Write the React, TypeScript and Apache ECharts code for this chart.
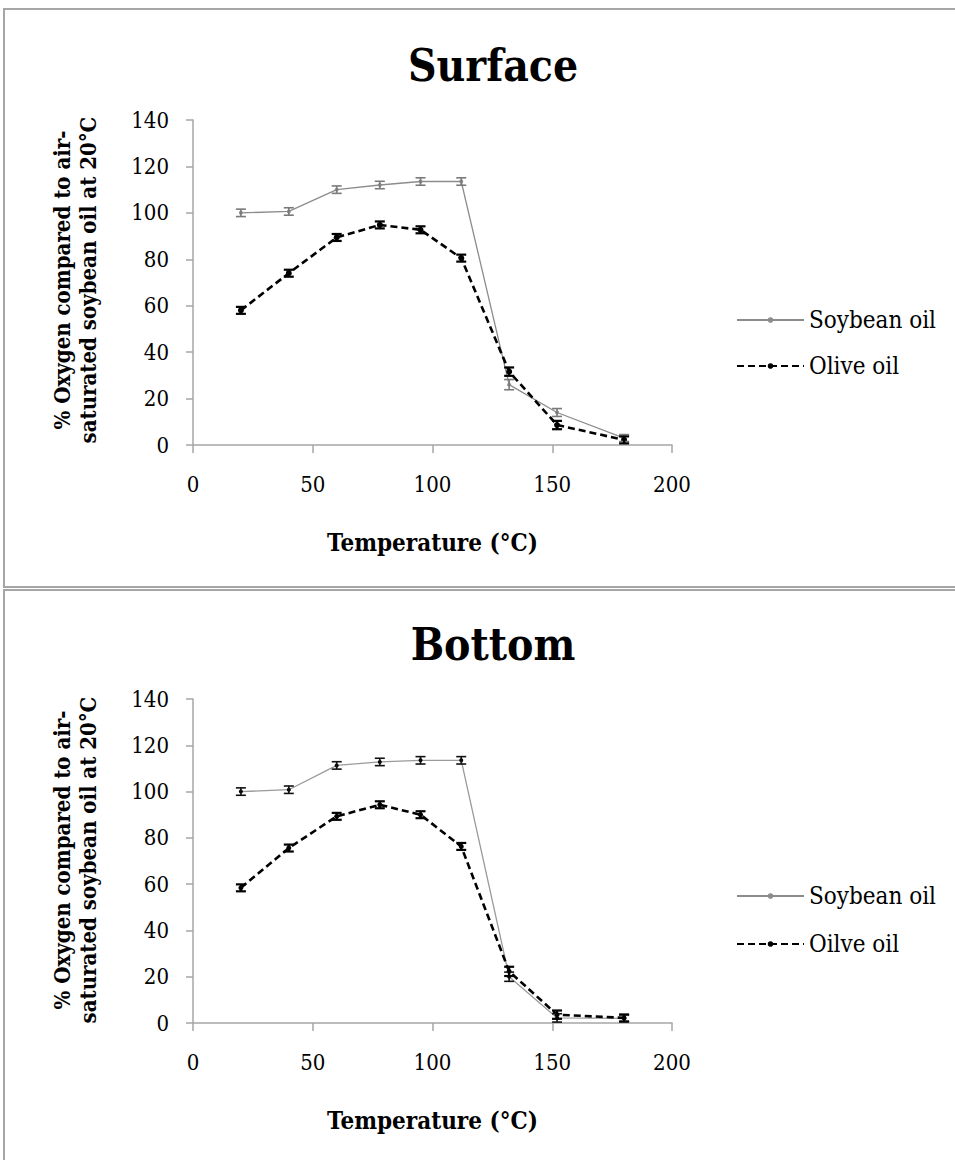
import React, { useEffect, useRef } from "react";
import * as echarts from "echarts";

const temperatures = [20, 40, 60, 78, 95, 112, 132, 152, 180];

const surfaceSoybean = [100, 100.6, 110, 112, 113.5, 113.5, 26, 14, 3];
const surfaceSoybeanErr = [1.6, 1.6, 1.6, 1.6, 1.6, 1.6, 2.2, 1.7, 1.5];
const surfaceOlive = [58, 74, 89.4, 94.8, 92.7, 80.5, 31.6, 8.6, 2.2];
const surfaceOliveErr = [1.5, 1.5, 1.5, 1.5, 1.5, 1.5, 1.8, 1.8, 1.5];

const bottomSoybean = [100, 100.8, 111.3, 112.8, 113.5, 113.5, 20, 2.2, 2];
const bottomSoybeanErr = [1.6, 1.6, 1.6, 1.6, 1.6, 1.6, 2.0, 1.8, 1.5];
const bottomOlive = [58.4, 75.6, 89.3, 94.3, 90, 76.3, 22.3, 3.6, 2.2];
const bottomOliveErr = [1.5, 1.5, 1.5, 1.5, 1.5, 1.5, 2.0, 1.8, 1.5];

const titles = ["Surface", "Bottom"];
const legendTop = ["Soybean oil", "Olive oil"];
const legendBottom = ["Soybean oil", "Oilve oil"];
const xName = "Temperature (°C)";
const yName = "% Oxygen compared to air-\nsaturated soybean oil at 20°C";

const FONT = "'DejaVu Serif Condensed', 'DejaVu Serif', serif";

function pairs(vals: number[]) {
  return temperatures.map((t, i) => [t, vals[i]]);
}
function errData(vals: number[], errs: number[]) {
  return temperatures.map((t, i) => [t, vals[i] - errs[i], vals[i] + errs[i]]);
}

function errSeries(idx: number, vals: number[], errs: number[], color: string, lw: number) {
  return {
    type: "custom",
    xAxisIndex: idx,
    yAxisIndex: idx,
    silent: true,
    z: 5,
    data: errData(vals, errs),
    renderItem: (params: any, api: any) => {
      const x = api.value(0);
      const p1 = api.coord([x, api.value(1)]);
      const p2 = api.coord([x, api.value(2)]);
      const w = 5;
      const style = { stroke: color, lineWidth: lw };
      return {
        type: "group",
        children: [
          { type: "line", shape: { x1: p1[0], y1: p1[1], x2: p2[0], y2: p2[1] }, style },
          { type: "line", shape: { x1: p1[0] - w, y1: p1[1], x2: p1[0] + w, y2: p1[1] }, style },
          { type: "line", shape: { x1: p2[0] - w, y1: p2[1], x2: p2[0] + w, y2: p2[1] }, style },
        ],
      };
    },
  };
}

export default function App() {
  const ref = useRef<HTMLDivElement>(null);
  useEffect(() => {
    if (!ref.current) return;
    const chart = echarts.init(ref.current, undefined, { renderer: "svg" });
    const grids = [
      { left: 193, top: 120, width: 479, height: 325 },
      { left: 193, top: 699, width: 479, height: 324 },
    ];
    const axisColor = "#a6a6a6";
    const xAxes = grids.map((_, i) => ({
      type: "value",
      gridIndex: i,
      min: 0,
      max: 200,
      interval: 50,
      splitLine: { show: false },
      axisLine: { show: true, onZero: false, lineStyle: { color: axisColor, width: 1.5 } },
      axisTick: { show: true, length: 8, lineStyle: { color: axisColor, width: 1.5 } },
      axisLabel: { color: "#000", fontFamily: FONT, fontSize: 22, margin: 28 },
      name: xName,
      nameLocation: "middle",
      nameGap: 85,
      nameTextStyle: { color: "#000", fontFamily: FONT, fontSize: 24, fontWeight: "bold" },
    }));
    const yAxes = grids.map((_, i) => ({
      type: "value",
      gridIndex: i,
      min: 0,
      max: 140,
      interval: 20,
      splitLine: { show: false },
      axisLine: { show: true, lineStyle: { color: axisColor, width: 1.5 } },
      axisTick: { show: true, length: 7, lineStyle: { color: axisColor, width: 1.5 } },
      axisLabel: { color: "#000", fontFamily: FONT, fontSize: 22, margin: 24 },
    }));
    const legendText = { fontFamily: FONT, fontSize: 24, lineHeight: 28, color: "#000" };
    const option: any = {
      animation: false,
      backgroundColor: "#fff",
      grid: grids,
      xAxis: xAxes,
      yAxis: yAxes,
      title: [
        { text: titles[0], left: 488, top: 38, textAlign: "center", textStyle: { fontFamily: FONT, fontSize: 44, fontWeight: "bold", color: "#000" } },
        { text: titles[1], left: 488, top: 617, textAlign: "center", textStyle: { fontFamily: FONT, fontSize: 44, fontWeight: "bold", color: "#000" } },
      ],
      legend: [
        {
          data: legendTop,
          orient: "vertical",
          left: 736,
          top: 306,
          padding: 0,
          itemGap: 18,
          itemWidth: 67,
          itemHeight: 7,
          textStyle: legendText,
        },
        {
          data: legendBottom,
          orient: "vertical",
          left: 736,
          top: 882,
          padding: 0,
          itemGap: 20,
          itemWidth: 67,
          itemHeight: 7,
          textStyle: legendText,
        },
      ],
      graphic: [
        { type: "rect", shape: { x: 4, y: 9, width: 960, height: 578 }, style: { fill: "none", stroke: "#a6a6a6", lineWidth: 2 }, z: -10 },
        { type: "rect", shape: { x: 4, y: 590, width: 960, height: 600 }, style: { fill: "none", stroke: "#a6a6a6", lineWidth: 2 }, z: -10 },
        { type: "text", x: 75, y: 280, rotation: Math.PI / 2, style: { text: yName, fontFamily: FONT, fontSize: 22, fontWeight: "bold", lineHeight: 26, align: "center", verticalAlign: "middle", fill: "#000" } },
        { type: "text", x: 75, y: 860, rotation: Math.PI / 2, style: { text: yName, fontFamily: FONT, fontSize: 22, fontWeight: "bold", lineHeight: 26, align: "center", verticalAlign: "middle", fill: "#000" } },
      ],
      series: [
        {
          name: legendTop[0], type: "line", xAxisIndex: 0, yAxisIndex: 0, data: pairs(surfaceSoybean),
          symbol: "circle", symbolSize: 4, itemStyle: { color: "#8c8c8c" },
          lineStyle: { color: "#8c8c8c", width: 1.3 },
        },
        {
          name: legendTop[1], type: "line", xAxisIndex: 0, yAxisIndex: 0, data: pairs(surfaceOlive),
          symbol: "circle", symbolSize: 6, itemStyle: { color: "#000" },
          lineStyle: { color: "#000", width: 2.6, type: [7, 4] },
        },
        errSeries(0, surfaceSoybean, surfaceSoybeanErr, "#7a7a7a", 1.6),
        errSeries(0, surfaceOlive, surfaceOliveErr, "#000", 2.2),
        {
          name: legendBottom[0], type: "line", xAxisIndex: 1, yAxisIndex: 1, data: pairs(bottomSoybean),
          symbol: "circle", symbolSize: 4, itemStyle: { color: "#000" },
          lineStyle: { color: "#9a9a9a", width: 1.3 },
        },
        {
          name: legendBottom[1], type: "line", xAxisIndex: 1, yAxisIndex: 1, data: pairs(bottomOlive),
          symbol: "circle", symbolSize: 5, itemStyle: { color: "#000" },
          lineStyle: { color: "#000", width: 2.6, type: [7, 4] },
        },
        errSeries(1, bottomSoybean, bottomSoybeanErr, "#111", 1.6),
        errSeries(1, bottomOlive, bottomOliveErr, "#000", 2.2),
      ],
    };
    chart.setOption(option);
    return () => chart.dispose();
  }, []);
  return <div ref={ref} style={{ position: "absolute", left: 0, top: 0, width: 955, height: 1160 }} />;
}
